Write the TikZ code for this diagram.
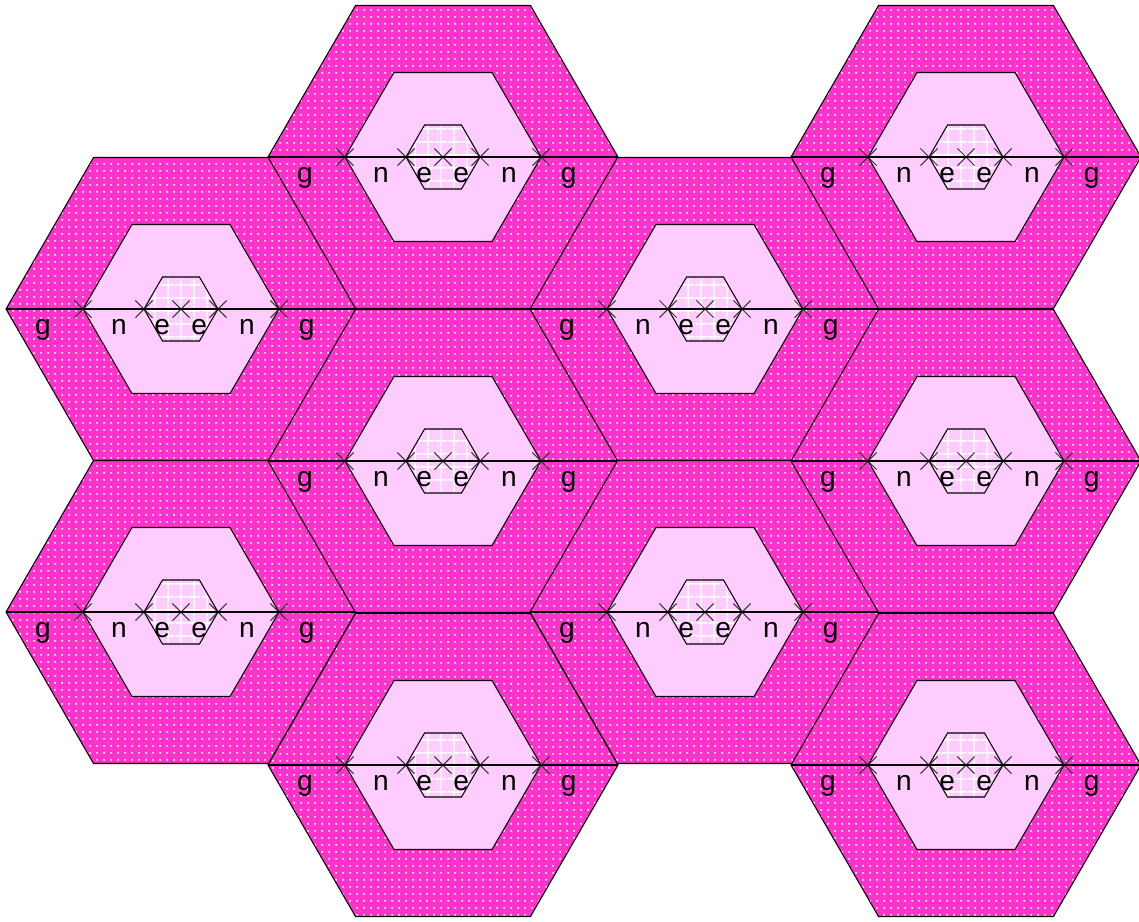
\documentclass[tikz,border=0pt]{standalone}
\usepackage{fontspec}
\setmainfont{Liberation Sans}
\usetikzlibrary{patterns.meta,shapes.misc}
\definecolor{hexmag}{RGB}{255,51,204}
\definecolor{hexpink}{RGB}{255,204,255}
\definecolor{xgray}{RGB}{50,50,50}
\tikzset{
  outerhex/.style={draw=black, line width=0.6pt, preaction={fill=hexmag},
    pattern={Dots[radius=0.7pt,distance=4pt]}, pattern color=white},
  midhex/.style={draw=black, line width=0.6pt, fill=hexpink},
  innerhex/.style={draw=black, line width=0.6pt, preaction={fill=hexpink},
    pattern={Hatch[distance=7.4pt,line width=0.8pt]}, pattern color=white},
  xmk/.style={cross out, draw=xgray, line width=0.6pt, minimum size=0.32cm, inner sep=0pt},
  axisline/.style={draw=black, line width=0.7pt},
  lbl/.style={anchor=base, yshift=-0.5cm, inner sep=0pt, font=\fontsize{16pt}{19pt}\selectfont}
}
\begin{document}
\begin{tikzpicture}[x=0.02cm, y=-0.02cm]
\useasboundingbox (0,0) rectangle (1139,921);
\foreach \cx/\cy/\n in {181/309/a, 181/612/b, 443/157/c, 443/461/d, 443/765/e,
                        705/309/f, 705/612/g, 966/157/h, 966/461/i, 966/765/j} {
  \begin{scope}[shift={(\cx,\cy)}]
    \path[outerhex] (-175,0) -- (-87.5,-151.5) -- (87.5,-151.5) -- (175,0) -- (87.5,151.5) -- (-87.5,151.5) -- cycle;
    \path[midhex] (-98,0) -- (-49,-84.5) -- (49,-84.5) -- (98,0) -- (49,84.5) -- (-49,84.5) -- cycle;
    \path[innerhex] (-37,0) -- (-18.5,-32) -- (18.5,-32) -- (37,0) -- (18.5,32) -- (-18.5,32) -- cycle;
    \coordinate (\n-L) at (-175,0);
    \coordinate (\n-R) at (175,0);
    \node[xmk] (\n-ml) at (-98,0) {};
    \node[xmk] (\n-il) at (-37,0) {};
    \node[xmk] (\n-c) at (0,0) {};
    \node[xmk] (\n-ir) at (37,0) {};
    \node[xmk] (\n-mr) at (98,0) {};
    \draw[axisline] (\n-L)
      -- node[lbl,pos=0.48] {g} (\n-ml.center)
      -- node[lbl,pos=0.59] {n} (\n-il.center)
      -- node[lbl,pos=0.49] {e} (\n-c.center)
      -- node[lbl,pos=0.49] {e} (\n-ir.center)
      -- node[lbl,pos=0.475] {n} (\n-mr.center)
      -- node[lbl,pos=0.36] {g} (\n-R);
  \end{scope}
}
\end{tikzpicture}
\end{document}
